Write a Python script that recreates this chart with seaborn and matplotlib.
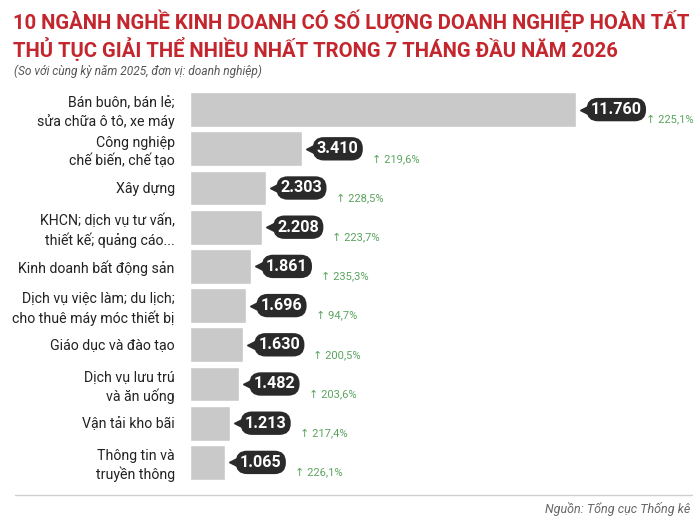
import matplotlib
matplotlib.use("Agg")
import matplotlib.pyplot as plt
import matplotlib.transforms as mtrans
import seaborn as sns
import pandas as pd

categories = [
    "Bán buôn, bán lẻ;\nsửa chữa ô tô, xe máy",
    "Công nghiệp\nchế biến, chế tạo",
    "Xây dựng",
    "KHCN; dịch vụ tư vấn,\nthiết kế; quảng cáo...",
    "Kinh doanh bất động sản",
    "Dịch vụ việc làm; du lịch;\ncho thuê máy móc thiết bị",
    "Giáo dục và đào tạo",
    "Dịch vụ lưu trú\nvà ăn uống",
    "Vận tải kho bãi",
    "Thông tin và\ntruyền thông",
]
values = [11760, 3410, 2303, 2208, 1861, 1696, 1630, 1482, 1213, 1065]
value_labels = ["11.760", "3.410", "2.303", "2.208", "1.861", "1.696", "1.630", "1.482", "1.213", "1.065"]
growth_labels = ["225,1%", "219,6%", "228,5%", "223,7%", "235,3%", "94,7%", "200,5%", "203,6%", "217,4%", "226,1%"]

title_lines = ["10 NGÀNH NGHỀ KINH DOANH CÓ SỐ LƯỢNG DOANH NGHIỆP HOÀN TẤT",
               "THỦ TỤC GIẢI THỂ NHIỀU NHẤT TRONG 7 THÁNG ĐẦU NĂM 2026"]
subtitle = "(So với cùng kỳ năm 2025, đơn vị: doanh nghiệp)"
source = "Nguồn: Tổng cục Thống kê"

sns.set_theme(style="white")
plt.rcParams["font.family"] = ["Roboto", "DejaVu Sans"]

df = pd.DataFrame({"cat": categories, "val": values})

W, H = 700, 523
fig = plt.figure(figsize=(W / 100, H / 100), dpi=100)
ax = fig.add_axes([190 / W, 1 - 482 / H, 500 / W, (482 - 90) / H])

sns.barplot(data=df, x="val", y="cat", orient="h", color="#c9c9c9",
            saturation=1, width=0.89, ax=ax)
ax.set_xlim(0, 500 / 0.03281)
ax.set_ylim(9.5, -0.5)
ax.set_xlabel("")
ax.set_ylabel("")
ax.set_xticks([])
for s in ax.spines.values():
    s.set_visible(False)
ax.tick_params(axis="y", length=0, pad=11)
ax.set_yticks(range(len(categories)))
ax.set_yticklabels(categories, fontsize=10.2, color="#222222", linespacing=1.3)

dark = "#2a2a2a"
tri_tr = mtrans.offset_copy(ax.transData, fig=fig, x=10, y=0, units="dots")
for i, (v, lab, g) in enumerate(zip(values, value_labels, growth_labels)):
    ax.plot([v], [i], marker="<", markersize=8, color=dark, transform=tri_tr,
            clip_on=False, zorder=3)
    ax.annotate(lab, xy=(v, i), xytext=(15 * 0.72, 0), textcoords="offset points",
                ha="left", va="center", color="white", fontsize=11.6,
                fontweight="bold", zorder=4, annotation_clip=False,
                bbox=dict(boxstyle="round,pad=0.26,rounding_size=0.7",
                          fc=dark, ec="none"))
    ax.annotate("↑ " + g, xy=(v, i), xytext=(70 * 0.72, -10 * 0.72),
                textcoords="offset points", ha="left", va="center",
                color="#5aa45e", fontsize=8, annotation_clip=False)

fig.text(13 / W, 1 - 29 / H, title_lines[0], ha="left", va="baseline", color="#c4262e",
         fontsize=14.6, fontweight="bold")
fig.text(13 / W, 1 - 57 / H, title_lines[1], ha="left", va="baseline", color="#c4262e",
         fontsize=14.6, fontweight="bold")
fig.text(14 / W, 1 - 71 / H, subtitle, ha="left", va="center", color="#555555",
         fontsize=8.6, style="italic")
fig.add_artist(plt.Line2D([15 / W, 692 / W], [1 - 495 / H, 1 - 495 / H],
                          color="#cfcfcf", linewidth=1))
fig.text(690 / W, 1 - 509 / H, source, ha="right", va="center", color="#666666",
         fontsize=9, style="italic")

fig.savefig("out.png", dpi=100)
